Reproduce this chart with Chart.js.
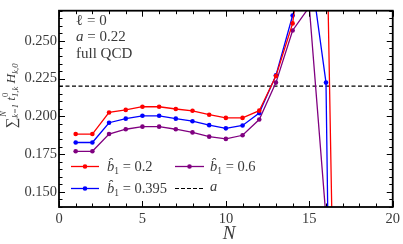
<!DOCTYPE html>
<html><head><meta charset="utf-8">
<script src="https://cdn.jsdelivr.net/npm/chart.js@4.4.0/dist/chart.umd.min.js"></script>
<style>html,body{margin:0;padding:0;background:#fff;}#wrap{width:403px;height:244px;}</style>
</head><body><div id="wrap"><canvas id="c" width="403" height="244"></canvas></div>
<script>
// ---- data ----
const N = [1,2,3,4,5,6,7,8,9,10,11,12,13,14,15,16,17];
const b1_02 = [0.1883,0.1883,0.2026,0.2043,0.2064,0.2064,0.2049,0.2037,0.2011,0.1990,0.1990,0.2038,0.2268,0.2616,0.348,0.351,-0.265];
const b1_0395 = [0.1827,0.1827,0.1958,0.1985,0.2004,0.2004,0.1985,0.1968,0.1942,0.1921,0.1940,0.2022,0.2272,0.2668,0.303,0.2224,-0.59];
const b1_06 = [0.1769,0.1769,0.1883,0.1915,0.1932,0.1932,0.1915,0.1894,0.1866,0.1851,0.1875,0.1979,0.2224,0.2569,0.2725,0.133];
const aValue = 0.22;
const aRangeN = [0, 20];
const xTicks = [0,5,10,15,20];
const yTicks = [0.150,0.175,0.200,0.225,0.250];
const seriesLabels = ['0.2','0.395','0.6'];

const SERIF = '"Liberation Serif", "DejaVu Serif", serif';
const TXT = '#3a3a3a';

function pts(arr){ return arr.map((v,i)=>({x:N[i], y:v})); }
function ds(arr, color){
  return {data: pts(arr), borderColor: color, backgroundColor: color, borderWidth: 1.3,
    pointRadius: 2.3, pointBorderWidth: 0, pointHoverRadius: 2.3, tension: 0, clip: 0};
}

function drawRich(ctx, x, y, parts, align){
  let w = 0;
  parts.forEach(p=>{ ctx.font = (p.it?'italic ':'') + p.size + 'px ' + SERIF; p.w = ctx.measureText(p.t).width; if(!p.noAdv) w += p.w; });
  let cx = align==='center' ? x - w/2 : x;
  parts.forEach(p=>{ ctx.font = (p.it?'italic ':'') + p.size + 'px ' + SERIF; ctx.fillText(p.t, cx + (p.dx||0), y + (p.dy||0)); if(!p.noAdv) cx += p.w; });
  return w;
}

const decor = {
  id: 'decor',
  afterDraw(chart){
    const ctx = chart.ctx, a = chart.chartArea, xs = chart.scales.x, ys = chart.scales.y;
    ctx.save();
    ctx.strokeStyle = '#000';
    ctx.lineWidth = 1;
    ctx.beginPath();
    for(let v=0; v<=20; v++){
      const px = Math.round(xs.getPixelForValue(v))+0.5;
      const L = (v%5===0)?6:3.5;
      ctx.moveTo(px, a.bottom); ctx.lineTo(px, a.bottom-L);
      ctx.moveTo(px, a.top); ctx.lineTo(px, a.top+L);
    }
    for(let k=0; k<=26; k++){
      const v = 0.14 + k*0.005;
      const py = Math.round(ys.getPixelForValue(v))+0.5;
      const L = (k%5===2)?6:3.5;
      ctx.moveTo(a.left, py); ctx.lineTo(a.left+L, py);
      ctx.moveTo(a.right, py); ctx.lineTo(a.right-L, py);
    }
    ctx.stroke();
    ctx.lineWidth = 1.8;
    ctx.strokeRect(a.left, a.top, a.right-a.left, a.bottom-a.top);

    ctx.fillStyle = TXT;
    ctx.textBaseline = 'alphabetic';
    ctx.textAlign = 'left';
    // annotations
    drawRich(ctx, 76, 25, [{t:'ℓ', size:15},{t:' = 0', size:15}]);
    drawRich(ctx, 76, 41, [{t:'a', it:true, size:15},{t:' = 0.22', size:15}]);
    drawRich(ctx, 76, 58, [{t:'full QCD', size:15}]);

    // legend
    const rows = [
      {x1:71, x2:99, y:166, color:'#ff0000', tx:107, lab:seriesLabels[0], mk:true},
      {x1:71, x2:99, y:188, color:'#0000ff', tx:107, lab:seriesLabels[1], mk:true},
      {x1:175, x2:204, y:166, color:'#800080', tx:210, lab:seriesLabels[2], mk:true},
      {x1:175, x2:204, y:188, color:'#000', tx:210, lab:null, mk:false, dash:true}
    ];
    rows.forEach(r=>{
      ctx.save();
      ctx.strokeStyle = r.color; ctx.fillStyle = r.color; ctx.lineWidth = r.dash?1.2:1.3;
      if(r.dash) ctx.setLineDash([4,2]);
      ctx.beginPath(); ctx.moveTo(r.x1, r.y+0.5); ctx.lineTo(r.x2, r.y+0.5); ctx.stroke();
      if(r.mk){ ctx.beginPath(); ctx.arc((r.x1+r.x2)/2, r.y+0.5, 2.3, 0, Math.PI*2); ctx.fill(); }
      ctx.restore();
      ctx.fillStyle = TXT;
      if(r.lab){
        drawRich(ctx, r.tx, r.y+5, [{t:'b̂', it:true, size:14.5},{t:'1', size:9.5, dy:3},{t:' = '+r.lab, size:14.5}]);
      } else {
        drawRich(ctx, r.tx, r.y+3, [{t:'a', it:true, size:14.5}]);
      }
    });

    // x title
    ctx.fillStyle = TXT;
    drawRich(ctx, 229, 239, [{t:'N', it:true, size:19}], 'center');

    // y title (rotated)
    ctx.save();
    ctx.translate(15, 96);
    ctx.rotate(-Math.PI/2);
    const parts = [
      {t:'∑', size:15, dy:1},
      {t:'N', it:true, size:8.5, dy:-9, noAdv:true, dx:1},
      {t:'k=1', it:true, size:8.5, dy:3},
      {t:' t', it:true, size:13.5},
      {t:'0', size:8.5, dy:-7, noAdv:true},
      {t:'1,k', it:true, size:8.5, dy:3},
      {t:' H', it:true, size:13.5},
      {t:'k,0', it:true, size:8.5, dy:3}
    ];
    drawRich(ctx, 0, 0, parts, 'center');
    ctx.restore();
    ctx.restore();
  }
};

new Chart(document.getElementById('c'), {
  type: 'line',
  data: {
    datasets: [
      ds(b1_02, '#ff0000'),
      ds(b1_0395, '#0000ff'),
      ds(b1_06, '#800080'),
      {data: aRangeN.map(x=>({x, y:aValue})), borderColor:'#000', borderWidth:1.2, borderDash:[4,2.5], pointRadius:0, clip:0}
    ]
  },
  options: {
    responsive: false, animation: false, devicePixelRatio: 1,
    layout: {padding: {top: 1, right: 9, left: 0, bottom: 0}},
    plugins: {legend: {display:false}, tooltip: {enabled:false}},
    scales: {
      x: {type:'linear', min:0, max:20,
        afterBuildTicks: s => { s.ticks = xTicks.map(v=>({value:v})); },
        afterFit: s => { s.height = 37; },
        grid:{display:false, drawTicks:false}, border:{display:false},
        ticks:{padding:3, maxRotation:0, color:TXT, font:{family:SERIF, size:14.5}, callback:v=>String(v)}},
      y: {type:'linear', min:0.14, max:0.27,
        afterBuildTicks: s => { s.ticks = yTicks.map(v=>({value:v})); },
        afterFit: s => { s.width = 59; },
        grid:{display:false, drawTicks:false}, border:{display:false},
        ticks:{padding:2, color:TXT, font:{family:SERIF, size:14.5}, callback:v=>v.toFixed(3)}}
    }
  },
  plugins: [decor]
});
</script></body></html>
